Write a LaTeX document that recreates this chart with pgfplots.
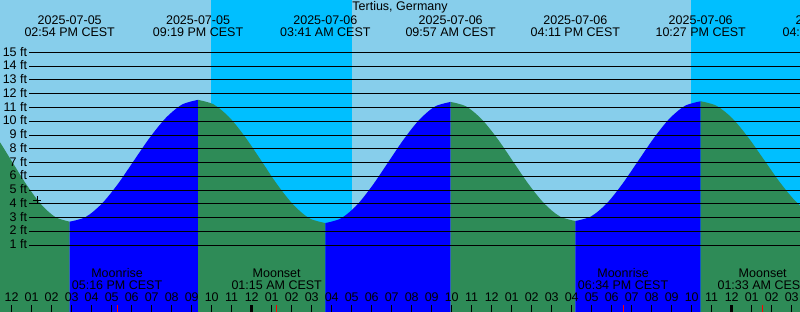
\documentclass[border=0pt]{standalone}
\usepackage{fontspec}
\setmainfont{Liberation Sans}
\usepackage{pgfplots}
\pgfplotsset{compat=1.18}
\definecolor{day}{HTML}{87CEEB}
\definecolor{night}{HTML}{00BFFF}
\definecolor{fall}{HTML}{2E8B57}
\definecolor{rise}{HTML}{0000FF}
\tikzset{lab/.style={font=\fontsize{12.5}{15}\selectfont, inner sep=0pt, text=black}}
\begin{document}
\begin{tikzpicture}
\begin{axis}[
  scale only axis, width=800pt, height=312pt,
  xmin=11.415, xmax=51.415, ymin=-3.866, ymax=18.81,
  axis background/.style={fill=day},
  axis line style={draw=none},
  ytick=\empty,
  xtick={12,...,51}, xticklabels={}, xtick pos=left,
  tick align=inside, major tick length=7pt,
  tick style={black, line width=0.8pt},
  extra x ticks={24,48}, extra x tick labels={},
  extra x tick style={major tick length=7pt, tick style={black, line width=3pt}},
  axis on top=true,
]
% night shading
\addplot[draw=none, fill=night] coordinates {(21.965,-5) (29.015,-5) (29.015,20) (21.965,20)} -- cycle;
\addplot[draw=none, fill=night] coordinates {(45.965,-5) (53,-5) (53,20) (45.965,20)} -- cycle;
% tide: falling (green) and rising (blue) segments
\addplot[draw=none, fill=fall, smooth] table {
t L
9.1 11.5
9.825 11.16
10.55 10.21
11.275 8.78
12.0 7.1
12.725 5.42
13.45 3.99
14.175 3.04
14.9 2.7
} -- (axis cs:14.9,-5) -- (axis cs:9.1,-5) -- cycle;
\addplot[draw=none, fill=rise, smooth] table {
t L
14.9 2.7
15.702 3.04
16.504 4.00
17.306 5.43
18.108 7.13
18.911 8.82
19.713 10.25
20.515 11.21
21.317 11.55
} -- (axis cs:21.317,-5) -- (axis cs:14.9,-5) -- cycle;
\addplot[draw=none, fill=fall, smooth] table {
t L
21.317 11.55
22.113 11.21
22.909 10.24
23.704 8.79
24.5 7.08
25.296 5.36
26.092 3.91
26.887 2.94
27.683 2.6
} -- (axis cs:27.683,-5) -- (axis cs:21.317,-5) -- cycle;
\addplot[draw=none, fill=rise, smooth] table {
t L
27.683 2.6
28.466 2.94
29.25 3.89
30.033 5.32
30.817 7.0
31.6 8.68
32.383 10.11
33.167 11.07
33.95 11.4
} -- (axis cs:33.95,-5) -- (axis cs:27.683,-5) -- cycle;
\addplot[draw=none, fill=fall, smooth] table {
t L
33.95 11.4
34.729 11.07
35.508 10.13
36.287 8.73
37.067 7.075
37.846 5.42
38.625 4.02
39.404 3.08
40.183 2.75
} -- (axis cs:40.183,-5) -- (axis cs:33.95,-5) -- cycle;
\addplot[draw=none, fill=rise, smooth] table {
t L
40.183 2.75
40.966 3.08
41.75 4.02
42.533 5.44
43.317 7.1
44.1 8.76
44.883 10.18
45.667 11.12
46.45 11.45
} -- (axis cs:46.45,-5) -- (axis cs:40.183,-5) -- cycle;
\addplot[draw=none, fill=fall, smooth] table {
t L
46.45 11.45
47.244 11.12
48.038 10.20
48.831 8.81
49.625 7.175
50.419 5.54
51.213 4.15
52.006 3.23
52.8 2.9
} -- (axis cs:52.8,-5) -- (axis cs:46.45,-5) -- cycle;
% grid lines
\pgfplotsinvokeforeach{1,...,15}{
  \addplot[black, line width=0.9pt] coordinates {(12.88,#1) (52,#1)};
  \node[lab, anchor=east, yshift=0.8pt] at (axis cs:12.78,#1) {#1 ft};
}
% current level marker
\addplot[only marks, mark=+, mark size=4pt, black, line width=0.8pt] coordinates {(13.265,4.25)};
% moon ticks
\addplot[red, line width=0.8pt] coordinates {(17.267,-3.9) (17.267,-3.36)};
\addplot[red, line width=0.8pt] coordinates {(25.25,-3.9) (25.25,-3.36)};
\addplot[red, line width=0.8pt] coordinates {(42.567,-3.9) (42.567,-3.36)};
\addplot[red, line width=0.8pt] coordinates {(49.55,-3.9) (49.55,-3.36)};
% title
\node[lab, anchor=base] at (axis cs:31.415,18.01) {Tertius, Germany};
% tide extreme labels
\foreach \x/\d/\t in {14.9/2025-07-05/02:54 PM CEST, 21.317/2025-07-05/09:19 PM CEST,
  27.683/2025-07-06/03:41 AM CEST, 33.95/2025-07-06/09:57 AM CEST,
  40.183/2025-07-06/04:11 PM CEST, 46.45/2025-07-06/10:27 PM CEST,
  52.8/2025-07-07/04:48 AM CEST} {
  \edef\temp{\noexpand\node[lab,anchor=base] at (axis cs:\x,17.06) {\d};
    \noexpand\node[lab,anchor=base] at (axis cs:\x,16.19) {\t};}
  \temp
}
% moon labels
\foreach \x/\d/\t in {17.267/Moonrise/05:16 PM CEST, 25.25/Moonset/01:15 AM CEST,
  42.567/Moonrise/06:34 PM CEST, 49.55/Moonset/01:33 AM CEST} {
  \edef\temp{\noexpand\node[lab,anchor=base] at (axis cs:\x,-1.395) {\d};
    \noexpand\node[lab,anchor=base] at (axis cs:\x,-2.245) {\t};}
  \temp
}
% hour labels
\foreach \x/\l in {12/12,13/01,14/02,15/03,16/04,17/05,18/06,19/07,20/08,21/09,22/10,23/11,
  24/12,25/01,26/02,27/03,28/04,29/05,30/06,31/07,32/08,33/09,34/10,35/11,
  36/12,37/01,38/02,39/03,40/04,41/05,42/06,43/07,44/08,45/09,46/10,47/11,
  48/12,49/01,50/02,51/03} {
  \edef\temp{\noexpand\node[lab,anchor=base] at (axis cs:\x,-3.07) {\l};}
  \temp
}
\coordinate (sw) at (rel axis cs:0,0);
\coordinate (ne) at (rel axis cs:1,1);
\end{axis}
\pgfresetboundingbox
\useasboundingbox (sw) rectangle (ne);
\end{tikzpicture}
\end{document}
